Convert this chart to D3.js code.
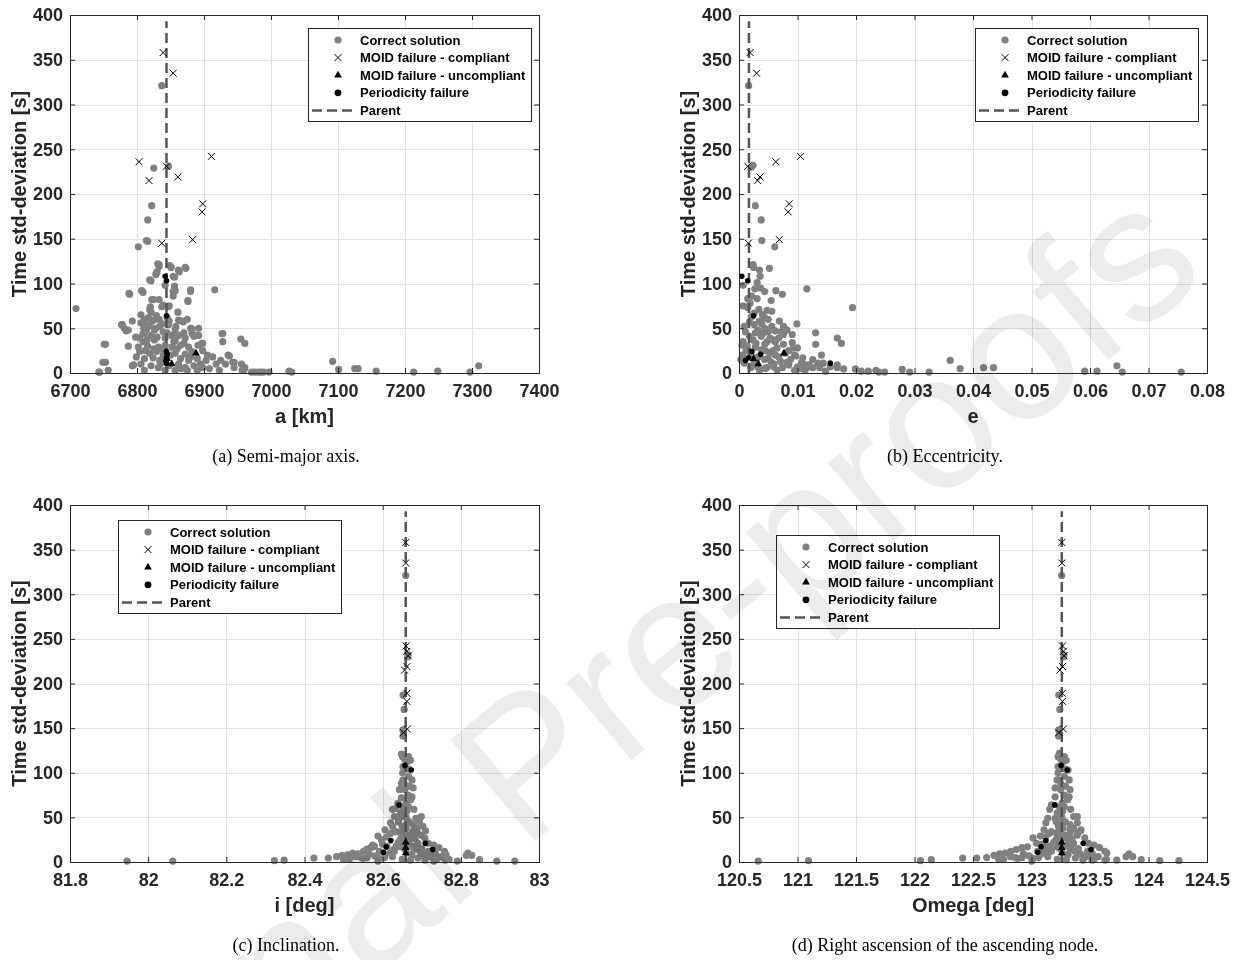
<!DOCTYPE html>
<html>
<head>
<meta charset="utf-8">
<script src="https://cdn.jsdelivr.net/npm/d3@7"></script>
<style>
  body { margin: 0; background: #fff; }
  svg { display: block; }
</style>
</head>
<body>
<svg id="fig" width="1236" height="960"></svg>
<script>
// ---------- tick values ----------
const stdTicks  = [0, 50, 100, 150, 200, 250, 300, 350, 400];
const aTicks    = [6700, 6800, 6900, 7000, 7100, 7200, 7300, 7400];
const eTicks    = [0, 0.01, 0.02, 0.03, 0.04, 0.05, 0.06, 0.07, 0.08];
const incTicks  = [81.8, 82, 82.2, 82.4, 82.6, 82.8, 83];
const raanTicks = [120.5, 121, 121.5, 122, 122.5, 123, 123.5, 124, 124.5];

// ---------- text ----------
const legendLabels = ['Correct solution', 'MOID failure - compliant', 'MOID failure - uncompliant', 'Periodicity failure', 'Parent'];
const axisTitles = ['a [km]', 'e', 'i [deg]', 'Omega [deg]'];
const captions = ['(a) Semi-major axis.', '(b) Eccentricity.', '(c) Inclination.', '(d) Right ascension of the ascending node.'];
const yTitle = 'Time std-deviation [s]';

// ---------- parent orbit ----------
const parentA = 6844, parentE = 0.0017, parentInc = 82.659, parentRaan = 123.259;
const parentStdTop = 393;

// ---------- MOID failure - compliant ----------
const stdMoidCompliant  = [358, 335, 242, 236, 231, 219, 215, 189, 180, 149, 145];
const aMoidCompliant    = [6839, 6854, 6911, 6803, 6844, 6861, 6818, 6898, 6897, 6883, 6837];
const eMoidCompliant    = [0.0019, 0.0030, 0.0105, 0.0063, 0.0015, 0.0036, 0.0032, 0.0086, 0.0084, 0.0069, 0.0016];
const incMoidCompliant  = [82.659, 82.659, 82.660, 82.662, 82.665, 82.662, 82.656, 82.662, 82.662, 82.663, 82.653];
const raanMoidCompliant = [123.259, 123.259, 123.265, 123.272, 123.278, 123.265, 123.243, 123.265, 123.265, 123.272, 123.234];

// ---------- MOID failure - uncompliant ----------
const stdMoidUncompliant  = [22, 16, 10];
const aMoidUncompliant    = [6888, 6845, 6852];
const eMoidUncompliant    = [0.0077, 0.0025, 0.0033];
const incMoidUncompliant  = [82.659, 82.659, 82.659];
const raanMoidUncompliant = [123.259, 123.259, 123.259];

// ---------- Periodicity failure ----------
const stdPeriodicity  = [108, 103, 64, 24, 21, 17, 14, 11];
const aPeriodicity    = [6842, 6844, 6844, 6844, 6845, 6844, 6843, 6844];
const ePeriodicity    = [0.00047, 0.0015, 0.0025, 0.0022, 0.0037, 0.0016, 0.0011, 0.0156];
const incPeriodicity  = [82.657, 82.673, 82.642, 82.621, 82.709, 82.609, 82.728, 82.602];
const raanPeriodicity = [123.253, 123.306, 123.199, 123.123, 123.442, 123.082, 123.509, 123.054];

// ---------- Correct solutions: [element value, time std-deviation] ----------
const aCorrect = [
  [6837,321],[6825,229],[6847,231],[6822,187],[6816,171],[6814,148],[6816,147],[6802,141],
  [6833,121],[6851,118],[6873,117],[6863,113],[6830,113],[6828,110],[6856,107],[6842,98],[6821,103],
  [6916,93],[6880,91],[6854,91],[6854,86],[6809,90],[6789,88],[6876,80],[6709,72],[6825,82],[6833,82],
  [6839,76],[6847,74],[6861,68],[6821,68],[6827,60],[6812,57],[6793,58],[6778,54],[6787,48],[6869,57],
  [6848,58],[6882,49],[6892,42],[6810,50],[6809,44],[6927,44],[6897,33],[6753,32],[6955,38],[6961,33],
  [6936,20],[6945,12],[7092,13],[7101,4],[7310,8],[7125,5],[7130,5],[7157,2],[7213,1],[7249,2],[7297,1],
  [7027,2],[7031,1],[6976,1],[6985,1],[6997,1],[6957,3],[6960,4],[6744,1],[6757,3],[6749,12],[6753,12],[6795,9],
  [6831,122],[6833,119],[6829,112],[6849,120],[6862,115],[6872,118],[6854,108],[6819,104],[6856,97],[6857,92],
  [6807,92],[6788,89],[6880,93],[6876,81],[6822,82],[6837,74],[6848,75],[6820,74],[6819,71],[6829,64],[6817,62],
  [6847,54],[6862,59],[6867,58],[6833,60],[6823,58],[6811,60],[6806,56],[6777,54],[6781,50],[6784,47],[6880,50],
  [6814,48],[6819,53],[6826,48],[6834,52],[6839,46],[6857,48],[6870,45],[6811,44],[6821,42],[6852,42],[6862,42],
  [6882,44],[6890,42],[6898,33],[6928,44],[6804,39],[6809,35],[6826,37],[6842,39],[6857,37],[6872,39],[6885,41],
  [6802,29],[6816,30],[6832,29],[6842,31],[6852,29],[6865,31],[6877,29],[6891,31],[6751,32],[6928,35],[6804,24],
  [6819,22],[6829,24],[6839,20],[6857,22],[6872,21],[6882,24],[6898,25],[6913,18],[6925,14],[6938,19],[6799,18],
  [6811,16],[6824,17],[6834,14],[6865,16],[6877,14],[6890,16],[6903,14],[6918,10],[6932,10],[6943,12],[6945,6],
  [6956,10],[6961,6],[6806,10],[6821,8],[6832,6],[6862,10],[6872,6],[6885,8],[6898,6],[6908,5],[6793,8],[6811,3],
  [6842,3],[6857,3],[6875,3],[6890,3],[6923,3],[6743,1],[6971,1],[6981,1],[6989,1],
  [6830,40],[6845,45],[6855,35],[6840,25],[6850,20],[6860,27],[6870,33],[6825,27],[6815,37],[6835,10],[6848,8],
  [6866,5],[6880,18],[6895,10],[6905,20],[6812,25],[6838,55],[6828,50],[6845,62],[6858,52],[6875,60],[6892,50],
  [6806,65],[6798,40],[6787,30]
];

const eCorrect = [
  [0.00165,321],[0.0024,232],[0.0021,230],[0.0028,187],[0.0038,171],[0.0039,148],[0.0061,141],[0.0024,121],
  [0.0025,118],[0.0052,117],[0.0035,115],[0.0036,108],[0.0007,98],[0.0037,95],[0.0044,91],[0.0063,92],[0.0074,88],
  [0.0116,94],[0.0015,83],[0.0031,83],[0.0055,81],[0.0022,86],[0.0007,75],[0.0015,73],[0.0194,73],[0.0034,71],
  [0.0021,63],[0.0044,62],[0.0069,58],[0.0099,55],[0.0076,52],[0.0082,48],[0.0076,43],[0.0131,45],[0.0011,46],
  [0.005,46],[0.0059,37],[0.0168,39],[0.0175,33],[0.0131,32],[0.0005,31],[0.0091,34],[0.0029,33],[0.0038,26],
  [0.0093,28],[0.0015,26],[0.0062,20],[0.0079,22],[0.0141,20],[0.0097,19],[0.0006,20],[0.0044,15],[0.0107,12],
  [0.0126,15],[0.0135,11],[0.0121,7],[0.0144,11],[0.0168,9],[0.0179,4.5],[0.0199,4.5],[0.0148,2],[0.0209,2],
  [0.0221,2],[0.0234,3],[0.0239,1],[0.0249,1],[0.0279,4],[0.0292,1],[0.0325,1],[0.0361,14],[0.0378,5],[0.0418,6],
  [0.0435,6],[0.0591,2],[0.0612,2],[0.0646,8],[0.0655,1],[0.0756,1],
  [0.0009,11],[0.002,6],[0.0032,7],[0.0047,6],[0.0059,7],[0.0074,6],[0.0085,9],[0.01,7],[0.0029,13],[0.005,17],
  [0.0071,13],[0.0088,15],[0.0021,20],[0.0053,23],[0.0065,28],[0.0044,32],[0.0076,32],[0.0024,37],[0.0038,41],
  [0.0053,39],[0.0068,39],[0.0032,48],[0.0044,50],[0.0056,52],[0.0026,54],[0.0009,52],[0.0035,58],[0.005,60],
  [0.0026,67],[0.0056,69],[0.0018,41],[0.0007,35],[0.0091,43],[0.01,28],[0.0109,17],[0.012,9],[0.0126,6],
  [0.0156,7],[0.0168,6],[0.0003,15],[0.0012,25],[0.0045,25],[0.006,10],[0.0085,25],[0.0035,3],[0.0065,3],
  [0.0095,3],[0.0105,5],[0.0115,9],[0.0041,44],[0.0048,35],[0.0028,29],[0.0062,47],[0.0018,57],[0.0040,65],
  [0.0045,5],[0.0055,12],[0.0068,18],[0.0082,12],[0.0095,20],[0.0033,18],[0.0025,10],[0.0014,30],[0.0062,35],
  [0.0072,46],[0.0028,45],[0.0039,55],[0.0048,70],[0.0019,78],[0.0058,25],[0.0108,10],[0.0113,3],[0.0138,6],
  [0.0027,94],[0.0031,101]
];

const incCorrect = [
  [82.659,321],[82.665,232],[82.664,230],[82.652,187],[82.655,171],[82.652,148],[82.653,147],[82.652,141],
  [81.946,1],[82.063,1],[82.323,1.5],[82.348,2],[82.424,4.5],[82.461,4.5],[82.588,1],[82.731,1],[82.760,2],
  [82.791,1],[82.814,7.5],[82.818,10],[82.828,7.5],[82.848,2.6],[82.892,1],[82.938,1],
  [82.482,6],[82.496,7.5],[82.510,8],[82.523,10],[82.537,9],[82.551,12],[82.560,14.5],[82.570,16],[82.579,17.5],
  [82.588,29],[82.574,19],[82.597,25],[82.606,36],[82.620,44],[82.625,40],[82.630,51],[82.625,59],[82.634,60],
  [82.639,66],[82.648,72],[82.643,81],[82.648,88],[82.651,100],[82.652,107],[82.648,121],[82.651,118],
  [82.666,118],[82.671,114],[82.675,92],[82.678,83],[82.675,73],[82.680,59],[82.685,49],[82.694,45],[82.703,40],
  [82.699,51],[82.690,32],[82.708,27],[82.717,21],[82.731,19],[82.744,16],[82.758,12],[82.762,8],[82.717,12],
  [82.699,8],[82.690,4.5],[82.671,2],[82.708,2],[82.625,6],[82.630,12],[82.606,8],[82.671,29],[82.657,21],
  [82.662,44],[82.666,62],[82.671,73],[82.657,81],[82.666,96],[82.652,92],[82.662,57],[82.643,49],[82.634,34],
  [82.648,31],[82.680,36],[82.690,21],[82.643,17.5],[82.680,14],[82.611,17.5],[82.662,10],[82.675,8],
  [82.655,55],[82.660,66],[82.668,45],[82.650,40],[82.662,27],[82.655,15],[82.672,18],[82.645,25],[82.683,26],
  [82.600,20],[82.592,12],[82.565,9],[82.545,5],[82.515,3],[82.700,15],[82.720,6],[82.740,4],[82.650,3],[82.667,104],
  [82.655,35],[82.660,38],[82.665,30],[82.650,28],[82.645,33],[82.670,25],[82.675,33],[82.640,22],[82.635,18],
  [82.685,18],[82.695,12],[82.628,14],[82.618,10],[82.605,5],[82.590,4],[82.580,7],[82.560,5],[82.550,4],
  [82.530,6],[82.500,3],[82.705,10],[82.715,7],[82.725,12],[82.735,9],[82.750,6],[82.770,3],[82.660,50],
  [82.665,75],[82.655,88],[82.668,85],[82.662,112],[82.656,115],[82.672,70],[82.640,45],[82.678,42],[82.652,62],
  [82.646,55],[82.688,38],[82.610,28],[82.620,32],[82.700,30],[82.710,35]
];

const raanCorrect = [
  [123.258,321],[123.277,232],[123.275,230],[123.233,187],[123.242,171],[123.233,148],[123.236,147],[123.233,141],
  [120.664,1],[121.094,1.5],[122.051,1.5],[122.143,2.6],[122.412,4.5],[122.532,4.5],[123.003,1],[123.518,2],
  [123.628,2],[123.729,2],[123.808,6],[123.833,9],[123.865,6],[123.938,2.6],[124.096,1.5],[124.260,1.5],
  [122.617,5],[122.680,7.5],[122.727,9],[122.775,10],[122.822,12],[122.870,14],[122.917,16],[122.965,17],
  [123.013,27],[123.044,21],[123.075,29],[123.107,36],[123.123,44],[123.139,49],[123.155,59],[123.170,64],
  [123.202,73],[123.202,83],[123.218,92],[123.227,100],[123.227,107],[123.227,118],[123.240,122],
  [123.281,118],[123.297,114],[123.313,103],[123.322,92],[123.329,81],[123.322,73],[123.335,59],[123.360,51],
  [123.392,51],[123.392,44],[123.423,36],[123.392,32],[123.455,27],[123.487,21],[123.534,19],[123.581,16],
  [123.628,12],[123.644,10],[123.487,12],[123.423,8],[123.375,4.5],[123.297,2.6],[123.439,2],[123.139,6],
  [123.170,12],[123.075,8],[123.297,29],[123.249,21],[123.265,44],[123.281,62],[123.297,73],[123.249,81],
  [123.281,96],[123.234,92],[123.265,57],[123.202,49],[123.170,34],[123.218,31],[123.329,36],[123.360,21],
  [123.202,17.5],[123.329,14],[123.107,17.5],[123.265,10],[123.313,8],
  [123.245,55],[123.262,66],[123.290,45],[123.230,40],[123.262,27],[123.240,15],[123.300,18],[123.210,25],
  [123.345,26],[123.090,20],[123.050,12],[122.930,9],[122.860,5],[122.760,3],[123.400,15],[123.470,6],
  [123.540,4],[123.220,3],[123.290,104],
  [123.25,35],[123.27,38],[123.29,30],[123.24,28],[123.22,33],[123.31,25],[123.33,33],[123.19,22],[123.16,18],
  [123.34,18],[123.37,12],[123.14,14],[123.10,10],[123.06,5],[123.01,4],[122.98,7],[122.92,5],[122.88,4],
  [122.82,6],[122.72,3],[123.41,10],[123.45,7],[123.48,12],[123.52,9],[123.57,6],[123.64,3],[123.26,50],
  [123.28,75],[123.25,88],[123.29,85],[123.27,112],[123.25,115],[123.31,70],[123.21,45],[123.33,42],[123.24,62],
  [123.22,55],[123.36,38],[123.12,28],[123.15,32],[123.39,30],[123.42,35]
];

// ---------- figure layout ----------
const panels = [
  { key: 'a', domain: [6700, 7400], ticks: aTicks, title: axisTitles[0], caption: captions[0],
    correct: aCorrect, compliant: aMoidCompliant, uncompliant: aMoidUncompliant, periodic: aPeriodicity, parent: parentA,
    box: { left: 70, right: 539, top: 15, bottom: 373 }, legend: { x: 308, y: 28 }, captionX: 286, captionY: 462 },
  { key: 'b', domain: [0, 0.08], ticks: eTicks, title: axisTitles[1], caption: captions[1],
    correct: eCorrect, compliant: eMoidCompliant, uncompliant: eMoidUncompliant, periodic: ePeriodicity, parent: parentE,
    box: { left: 739, right: 1207, top: 15, bottom: 373 }, legend: { x: 975, y: 28 }, captionX: 945, captionY: 462 },
  { key: 'c', domain: [81.8, 83], ticks: incTicks, title: axisTitles[2], caption: captions[2],
    correct: incCorrect, compliant: incMoidCompliant, uncompliant: incMoidUncompliant, periodic: incPeriodicity, parent: parentInc,
    box: { left: 70, right: 539, top: 505, bottom: 862 }, legend: { x: 118, y: 520 }, captionX: 286, captionY: 951 },
  { key: 'd', domain: [120.5, 124.5], ticks: raanTicks, title: axisTitles[3], caption: captions[3],
    correct: raanCorrect, compliant: raanMoidCompliant, uncompliant: raanMoidUncompliant, periodic: raanPeriodicity, parent: parentRaan,
    box: { left: 739, right: 1207, top: 505, bottom: 862 }, legend: { x: 776, y: 535 }, captionX: 945, captionY: 951 }
];

const SANS = "'Liberation Sans', Arial, Helvetica, sans-serif";
const SERIF = "'Liberation Serif', 'Times New Roman', Times, serif";
const AXIS_COLOR = '#262626';
const GRID_COLOR = '#e2e2e2';
const GRAY = '#808080';
const PARENT_COLOR = '#555555';
const DASH = '10,5';

const svg = d3.select('#fig');

const crossPath = 'M-3.5,-3.5L3.5,3.5M-3.5,3.5L3.5,-3.5';
const trianglePath = d3.symbol(d3.symbolTriangle).size(26)();

function drawPanel(p) {
  const g = svg.append('g').attr('class', 'panel-' + p.key);
  const b = p.box;
  const x = d3.scaleLinear().domain(p.domain).range([b.left, b.right]);
  const y = d3.scaleLinear().domain([0, 400]).range([b.bottom, b.top]);

  // grid
  g.append('g')
    .attr('transform', `translate(0,${b.bottom})`)
    .call(d3.axisBottom(x).tickValues(p.ticks).tickSize(-(b.bottom - b.top)).tickFormat(''))
    .call(s => s.select('.domain').remove())
    .call(s => s.selectAll('line').attr('stroke', GRID_COLOR).attr('shape-rendering', 'crispEdges'));
  g.append('g')
    .attr('transform', `translate(${b.left},0)`)
    .call(d3.axisLeft(y).tickValues(stdTicks).tickSize(-(b.right - b.left)).tickFormat(''))
    .call(s => s.select('.domain').remove())
    .call(s => s.selectAll('line').attr('stroke', GRID_COLOR).attr('shape-rendering', 'crispEdges'));

  // correct solutions
  g.append('g').selectAll('circle').data(p.correct).join('circle')
    .attr('cx', d => x(d[0])).attr('cy', d => y(d[1])).attr('r', 3.6).attr('fill', GRAY);

  // parent orbit
  g.append('line')
    .attr('x1', x(p.parent)).attr('x2', x(p.parent))
    .attr('y1', y(0)).attr('y2', y(parentStdTop))
    .attr('stroke', PARENT_COLOR).attr('stroke-width', 2.5).attr('stroke-dasharray', DASH);

  // MOID failure - compliant
  g.append('g').selectAll('path').data(d3.zip(p.compliant, stdMoidCompliant)).join('path')
    .attr('d', crossPath)
    .attr('transform', d => `translate(${x(d[0])},${y(d[1])})`)
    .attr('stroke', '#000').attr('stroke-width', 1).attr('fill', 'none');

  // MOID failure - uncompliant
  g.append('g').selectAll('path').data(d3.zip(p.uncompliant, stdMoidUncompliant)).join('path')
    .attr('d', trianglePath)
    .attr('transform', d => `translate(${x(d[0])},${y(d[1])})`)
    .attr('fill', '#000');

  // periodicity failure
  g.append('g').selectAll('circle').data(d3.zip(p.periodic, stdPeriodicity)).join('circle')
    .attr('cx', d => x(d[0])).attr('cy', d => y(d[1])).attr('r', 2.8).attr('fill', '#000');

  // axes (ticks inward on all four sides)
  const tickLen = 5;
  const styleAxis = s => {
    s.select('.domain').remove();
    s.selectAll('line').attr('stroke', AXIS_COLOR);
    s.selectAll('text').attr('fill', AXIS_COLOR).attr('font-family', SANS)
      .attr('font-weight', 'bold').attr('font-size', 18);
  };
  g.append('g').attr('transform', `translate(0,${b.bottom})`)
    .call(d3.axisBottom(x).tickValues(p.ticks).tickSize(-tickLen).tickPadding(11).tickFormat(d => String(d)))
    .call(styleAxis);
  g.append('g').attr('transform', `translate(0,${b.top})`)
    .call(d3.axisTop(x).tickValues(p.ticks).tickSize(-tickLen).tickFormat(''))
    .call(styleAxis);
  g.append('g').attr('transform', `translate(${b.left},0)`)
    .call(d3.axisLeft(y).tickValues(stdTicks).tickSize(-tickLen).tickPadding(7).tickFormat(d => String(d)))
    .call(styleAxis);
  g.append('g').attr('transform', `translate(${b.right},0)`)
    .call(d3.axisRight(y).tickValues(stdTicks).tickSize(-tickLen).tickFormat(''))
    .call(styleAxis);

  g.append('rect')
    .attr('x', b.left).attr('y', b.top)
    .attr('width', b.right - b.left).attr('height', b.bottom - b.top)
    .attr('fill', 'none').attr('stroke', AXIS_COLOR).attr('stroke-width', 1)
    .attr('shape-rendering', 'crispEdges');

  // axis titles
  g.append('text')
    .attr('x', (b.left + b.right) / 2).attr('y', b.bottom + 50)
    .attr('text-anchor', 'middle').attr('font-family', SANS).attr('font-weight', 'bold')
    .attr('font-size', 20).attr('fill', AXIS_COLOR).text(p.title);
  g.append('text')
    .attr('transform', `translate(${b.left - 44},${(b.top + b.bottom) / 2}) rotate(-90)`)
    .attr('text-anchor', 'middle').attr('font-family', SANS).attr('font-weight', 'bold')
    .attr('font-size', 20).attr('fill', AXIS_COLOR).text(yTitle);

  // caption
  g.append('text')
    .attr('x', p.captionX).attr('y', p.captionY)
    .attr('text-anchor', 'middle').attr('font-family', SERIF)
    .attr('font-size', 18).attr('fill', '#000').text(p.caption);

  // legend
  const L = p.legend;
  const rowH = 17.6;
  const lg = g.append('g').attr('transform', `translate(${L.x},${L.y})`);
  const box = lg.append('rect').attr('fill', '#fff').attr('stroke', AXIS_COLOR).attr('stroke-width', 1)
    .attr('shape-rendering', 'crispEdges');
  const texts = lg.selectAll('text').data(legendLabels).join('text')
    .attr('x', 52).attr('y', (d, i) => 12 + i * rowH).attr('dy', '0.35em')
    .attr('font-family', SANS).attr('font-weight', 'bold').attr('font-size', 13)
    .attr('fill', '#000').text(d => d);
  let maxW = 0;
  texts.each(function () { maxW = Math.max(maxW, this.getComputedTextLength()); });
  box.attr('width', 52 + maxW + 6).attr('height', 12 + 4 * rowH + 11);
  lg.append('circle').attr('cx', 30).attr('cy', 12).attr('r', 3.6).attr('fill', GRAY);
  lg.append('path').attr('d', crossPath).attr('transform', `translate(30,${12 + rowH})`)
    .attr('stroke', '#000').attr('fill', 'none');
  lg.append('path').attr('d', trianglePath).attr('transform', `translate(30,${12 + 2 * rowH})`).attr('fill', '#000');
  lg.append('circle').attr('cx', 30).attr('cy', 12 + 3 * rowH).attr('r', 3.4).attr('fill', '#000');
  lg.append('line').attr('x1', 4).attr('x2', 49).attr('y1', 12 + 4 * rowH).attr('y2', 12 + 4 * rowH)
    .attr('stroke', PARENT_COLOR).attr('stroke-width', 2.5).attr('stroke-dasharray', DASH);
}

panels.forEach(drawPanel);

// diagonal "Journal Pre-proofs" stamp over the page
svg.append('text')
  .attr('transform', 'translate(1210,275) rotate(-40)')
  .attr('text-anchor', 'end')
  .attr('font-family', SANS)
  .attr('font-size', 192)
  .attr('fill', '#ececec')
  .style('mix-blend-mode', 'multiply')
  .text('Journal Pre-proofs');
</script>
</body>
</html>
